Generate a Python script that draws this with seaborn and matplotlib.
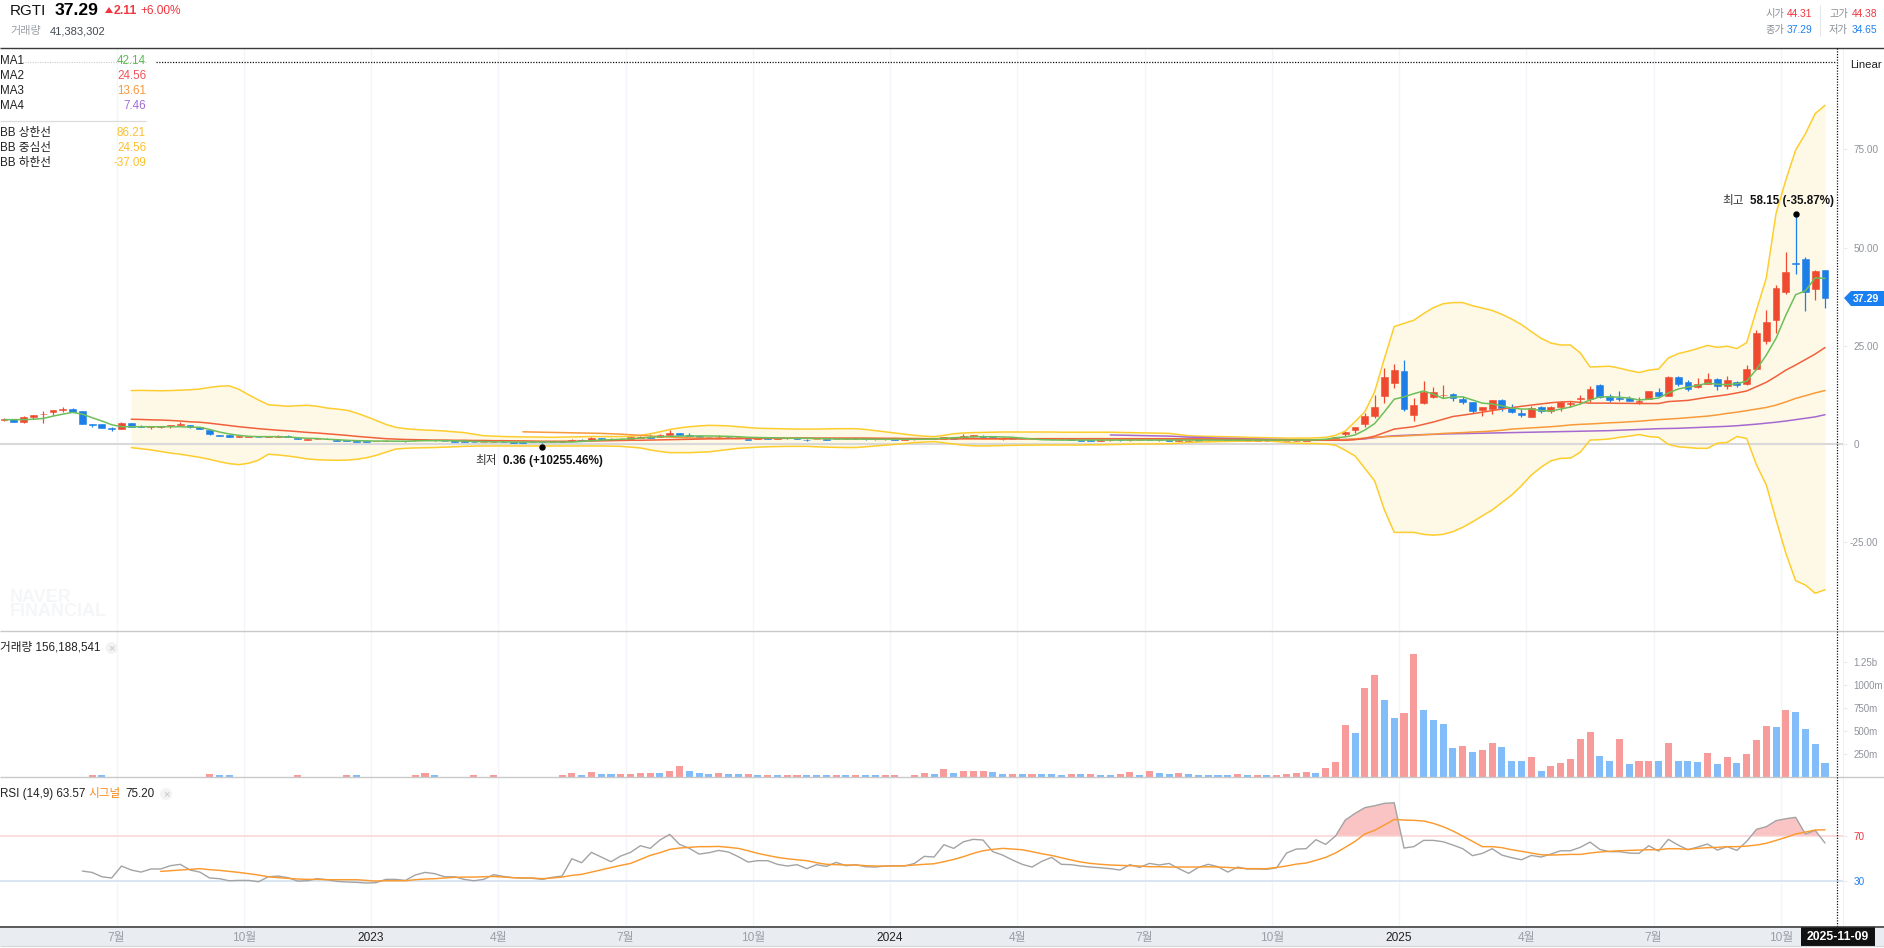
import matplotlib
matplotlib.use("Agg")
import matplotlib.dates as mdates
import matplotlib.pyplot as plt
import matplotlib.transforms as mtrans
from matplotlib.patches import Circle, Polygon, Rectangle
import numpy as np
import pandas as pd
import seaborn as sns

first_week = "2022-04-09"
n_weeks = 187

# candle that opens each labelled month
tick_weeks = [12, 25, 38, 51, 64, 77, 91, 104, 117, 130, 143, 156, 169, 182]
tick_labels = ["7월", "10월", "2023", "4월", "7월", "10월", "2024", "4월", "7월", "10월", "2025", "4월", "7월", "10월"]

opens = [6.1,6.27,5.6,6.8,7.55,8.05,8.65,8.9,8.4,5.0,
         5.0,4.2,3.9,5.35,4.6,4.3,4.45,4.6,4.9,4.75,
         4.25,3.55,2.3,2.3,1.85,1.9,1.9,1.85,1.9,2.0,
         1.6,1.1,1.2,1.35,1.1,1.05,0.76,0.76,0.7,0.8,
         0.85,0.7,0.9,1.0,1.0,0.78,0.76,0.76,0.6,0.42,
         0.55,0.6,0.5,0.48,0.5,0.45,0.45,0.55,0.7,1.1,
         1.0,1.5,1.2,1.0,1.35,1.5,1.85,1.87,2.4,2.7,
         2.4,2.05,1.8,1.7,1.8,1.7,1.3,1.4,1.45,1.4,
         1.5,1.45,1.05,1.2,1.2,1.3,1.25,1.3,1.2,1.15,
         1.2,1.15,1.1,1.15,1.2,1.3,1.3,1.6,1.7,2.0,
         2.1,2.0,1.2,1.5,1.35,1.25,1.3,1.25,1.15,1.2,
         1.1,0.95,0.85,0.9,0.95,0.9,0.95,1.0,0.95,0.9,
         0.85,0.6,0.9,0.8,0.85,1.0,0.8,0.75,0.8,0.7,
         0.8,0.75,0.8,0.85,1.0,1.05,1.45,2.54,3.65,5.17,
         7.1,12.3,15.6,18.6,7.4,10.4,12.0,12.5,12.7,11.45,
         10.7,8.7,8.9,11.2,9.1,7.9,6.9,9.4,8.4,9.4,
         10.3,11.45,11.45,15.0,12.1,11.7,11.7,10.7,11.4,13.2,
         12.2,17.05,15.8,14.5,15.4,16.5,14.75,15.8,15.3,19.1,
         26.2,31.55,38.7,46.0,47.1,39.45,44.31]
highs = [6.5,6.35,7.1,7.4,8.4,8.6,9.3,9.2,8.5,5.05,
         5.0,4.25,5.6,5.4,4.85,4.6,4.6,4.9,5.6,4.8,
         4.35,3.6,2.4,2.3,2.0,2.0,2.0,2.0,2.2,2.2,
         1.65,1.3,1.45,1.45,1.15,1.05,0.8,0.8,0.85,0.95,
         0.88,0.8,1.1,1.15,1.05,0.82,0.8,0.8,0.65,0.62,
         0.65,0.65,0.55,0.5,0.5,0.48,0.6,0.75,1.3,1.3,
         1.85,1.6,1.5,1.5,1.9,2.1,2.5,2.5,3.56,2.8,
         2.9,2.2,1.9,2.3,1.95,2.1,1.4,1.55,1.6,1.55,
         1.6,1.5,1.15,1.35,1.3,1.4,1.35,1.4,1.3,1.25,
         1.25,1.2,1.2,1.25,1.55,1.45,1.9,1.9,2.5,2.3,
         2.2,2.1,1.7,1.6,1.45,1.35,1.35,1.3,1.25,1.25,
         1.15,1.0,1.0,1.0,1.05,1.0,1.05,1.1,1.05,0.95,
         0.95,0.95,0.95,0.9,0.95,1.05,0.9,0.95,1.0,0.9,
         0.9,0.85,0.9,1.1,1.15,1.4,1.8,3.4,4.33,8.0,
         12.6,19.3,20.4,21.4,11.7,16.0,14.5,15.0,12.9,12.2,
         10.8,9.4,11.2,11.4,10.2,8.9,9.7,9.6,9.6,10.9,
         11.0,12.5,14.8,15.2,12.7,13.5,12.1,12.0,13.5,14.2,
         17.3,17.3,16.3,16.9,18.0,16.8,17.3,16.0,20.1,29.0,
         34.0,40.5,48.9,58.15,47.6,44.3,44.38]
lows = [5.9,5.65,5.4,6.3,5.4,7.4,8.05,8.1,5.17,4.4,
        4.15,3.4,3.8,4.4,4.3,3.8,4.2,4.1,4.8,4.1,
        3.7,2.4,2.0,1.8,1.8,1.85,1.7,1.8,1.85,1.75,
        1.2,1.05,1.15,1.15,0.85,0.8,0.5,0.5,0.65,0.75,
        0.68,0.6,0.85,0.95,0.85,0.65,0.6,0.58,0.42,0.4,
        0.5,0.5,0.38,0.38,0.4,0.36,0.42,0.5,0.65,0.7,
        0.95,1.1,1.1,0.95,1.3,1.45,1.5,1.8,2.3,2.2,
        2.05,1.75,1.6,1.65,1.6,1.6,0.95,1.3,1.3,1.35,
        1.4,1.2,0.85,1.15,0.95,1.2,1.15,1.2,1.1,1.1,
        1.1,1.05,1.05,1.1,1.15,1.2,1.25,1.2,1.6,1.9,
        1.7,1.75,1.1,1.3,1.2,1.15,1.2,1.1,1.1,1.05,
        0.8,0.75,0.8,0.85,0.85,0.85,0.9,0.9,0.85,0.8,
        0.8,0.55,0.75,0.75,0.8,0.75,0.75,0.7,0.75,0.65,
        0.7,0.7,0.75,0.8,0.9,1.0,1.3,2.0,2.8,4.33,
        6.6,10.5,14.3,8.5,5.8,10.3,11.7,11.6,11.0,10.2,
        7.8,7.2,7.6,8.5,7.9,6.8,6.9,7.9,7.9,8.5,
        9.3,10.2,10.7,11.8,10.6,10.9,10.9,10.2,11.4,12.0,
        12.2,14.8,13.5,14.2,15.2,13.7,14.0,14.5,15.0,18.8,
        25.4,28.2,38.2,43.3,33.9,36.6,34.65]
closes = [6.3,5.68,6.87,7.3,7.7,8.57,8.8,8.1,5.17,4.85,
          4.15,3.8,5.35,4.4,4.3,4.5,4.5,4.75,5.1,4.25,
          3.75,2.6,2.05,1.8,1.95,1.95,1.75,1.95,2.05,1.8,
          1.27,1.25,1.35,1.2,0.85,0.85,0.5,0.5,0.8,0.85,
          0.68,0.65,1.0,1.05,0.9,0.65,0.6,0.6,0.42,0.6,
          0.6,0.52,0.38,0.38,0.42,0.4,0.55,0.7,1.1,0.76,
          1.45,1.2,1.4,1.35,1.7,1.85,1.6,2.4,2.8,2.3,
          2.1,1.8,1.7,1.8,1.7,1.75,1.0,1.45,1.4,1.5,
          1.45,1.25,0.9,1.3,1.0,1.25,1.3,1.2,1.15,1.2,
          1.15,1.1,1.15,1.2,1.3,1.25,1.8,1.3,2.05,2.2,
          1.8,1.85,1.6,1.35,1.25,1.3,1.25,1.15,1.2,1.1,
          0.85,0.8,0.9,0.95,0.9,0.95,1.0,0.95,0.9,0.85,
          0.9,0.85,0.8,0.85,0.82,0.8,0.85,0.9,0.95,0.85,
          0.75,0.8,0.85,1.0,1.05,1.15,1.7,3.05,4.33,7.2,
          9.4,17.05,18.8,8.9,9.9,13.3,13.2,12.6,11.8,10.7,
          8.4,9.4,11.2,9.1,8.1,7.4,9.1,8.5,9.4,10.7,
          10.4,11.6,14.0,12.0,11.2,11.45,10.9,10.85,13.5,12.2,
          17.05,15.3,14.0,15.3,16.5,14.75,16.3,15.0,19.1,28.2,
          31.0,39.7,43.8,45.9,38.7,44.0,37.29]

ma1 = [6.2,6.2,6.2,6.3,6.5,7.1,7.6,8.05,7.6,6.7,
       5.85,4.9,4.4,4.4,4.4,4.4,4.4,4.4,4.4,4.3,
       4.25,3.7,3.05,2.55,2.2,1.95,1.87,1.87,1.87,1.8,
       1.6,1.45,1.4,1.2,1.1,0.95,0.85,0.8,0.75,0.75,
       0.72,0.7,0.78,0.85,0.85,0.85,0.8,0.75,0.65,0.6,
       0.55,0.55,0.5,0.5,0.5,0.5,0.5,0.5,0.5,0.65,
       0.85,1.0,1.1,1.2,1.35,1.5,1.7,1.85,1.95,2.0,
       2.05,2.05,2.05,2.0,1.95,1.85,1.7,1.65,1.6,1.55,
       1.5,1.45,1.45,1.4,1.35,1.3,1.25,1.25,1.25,1.2,
       1.2,1.2,1.2,1.2,1.2,1.3,1.45,1.6,1.7,1.8,
       1.85,1.85,1.8,1.7,1.5,1.3,1.1,1.05,1.0,1.0,
       1.0,1.0,1.0,1.0,1.0,1.0,1.0,1.0,1.0,1.0,
       1.0,1.0,1.0,1.0,1.0,1.0,1.0,1.0,1.0,1.0,
       1.0,1.0,1.0,1.0,1.05,1.2,1.6,1.8,2.3,3.55,
       5.2,8.2,11.4,12.0,12.8,13.5,12.7,11.6,12.0,12.0,
       11.2,10.4,10.2,9.7,9.15,8.9,8.9,8.5,8.4,8.9,
       9.4,10.2,11.2,12.0,12.0,11.9,11.7,11.2,11.4,11.7,
       13.0,14.0,14.5,14.9,15.5,15.2,15.1,15.35,16.0,19.0,
       22.6,26.9,32.8,38.0,39.0,42.3,42.14]

ma2_start = 13
ma2 = [6.3,6.25,6.15,6.1,6.0,5.85,5.65,
       5.55,5.3,5.0,4.7,4.4,4.15,3.9,3.7,3.5,3.35,
       3.15,2.95,2.8,2.6,2.4,2.2,1.95,1.75,1.55,1.35,
       1.25,1.15,1.1,1.05,1.0,1.0,0.95,0.95,0.9,0.9,
       0.85,0.85,0.8,0.8,0.75,0.7,0.7,0.7,0.7,0.75,
       0.75,0.8,0.85,0.9,0.95,0.95,1.0,1.05,1.1,1.15,
       1.2,1.25,1.3,1.3,1.35,1.35,1.4,1.4,1.45,1.45,
       1.45,1.5,1.5,1.5,1.5,1.5,1.5,1.5,1.5,1.45,
       1.45,1.45,1.4,1.4,1.35,1.35,1.35,1.35,1.35,1.35,
       1.35,1.35,1.35,1.35,1.35,1.35,1.35,1.35,1.35,1.35,
       1.35,1.35,1.35,1.35,1.35,1.35,1.35,1.35,1.35,1.35,
       1.3,1.3,1.3,1.25,1.25,1.2,1.2,1.15,1.15,1.1,
       1.05,1.0,1.0,0.95,0.95,0.95,0.95,0.95,1.1,1.45,
       2.0,2.9,3.8,4.1,4.4,5.0,5.6,6.3,7.0,7.35,
       7.7,8.1,8.5,8.9,9.25,9.6,9.9,10.2,10.5,10.7,
       10.8,10.6,10.4,10.4,10.4,10.35,10.35,10.3,10.3,10.3,
       10.8,10.95,11.1,11.5,11.9,12.2,12.55,13.0,13.5,14.6,
       15.7,17.2,18.8,20.1,21.5,22.9,24.56]

ma3_start = 53
ma3 = [3.1,3.05,3.0,2.95,2.9,2.85,2.8,
       2.75,2.7,2.6,2.5,2.35,2.2,2.05,1.9,1.75,1.65,
       1.55,1.5,1.5,1.45,1.45,1.45,1.45,1.45,1.45,1.45,
       1.45,1.45,1.45,1.4,1.4,1.4,1.4,1.4,1.4,1.4,
       1.35,1.35,1.35,1.35,1.35,1.35,1.35,1.35,1.35,1.35,
       1.3,1.3,1.3,1.3,1.3,1.3,1.3,1.3,1.3,1.3,
       1.25,1.25,1.25,1.25,1.25,1.25,1.25,1.25,1.25,1.25,
       1.25,1.25,1.2,1.2,1.15,1.15,1.1,1.1,1.05,1.05,
       1.0,1.0,0.95,0.95,0.95,1.0,1.05,1.1,1.3,1.5,
       1.7,1.85,1.95,2.05,2.2,2.35,2.5,2.7,2.8,2.9,
       3.05,3.15,3.3,3.5,3.8,3.95,4.1,4.25,4.4,4.6,
       4.85,5.0,5.1,5.25,5.4,5.5,5.65,5.8,6.0,6.2,
       6.35,6.5,6.7,6.9,7.1,7.4,7.8,8.1,8.5,8.9,
       9.3,9.9,10.7,11.6,12.3,13.0,13.61]

ma4_start = 113
ma4 = [2.3,2.25,2.2,2.15,2.1,2.05,2.0,
       1.9,1.75,1.7,1.6,1.5,1.45,1.4,1.3,1.25,1.2,
       1.15,1.1,1.05,1.0,1.0,1.05,1.1,1.15,1.2,1.3,
       1.6,1.9,2.1,2.2,2.3,2.4,2.45,2.55,2.6,2.65,
       2.7,2.75,2.8,2.85,2.9,2.95,3.0,3.05,3.1,3.15,
       3.2,3.25,3.3,3.35,3.4,3.5,3.6,3.7,3.8,3.9,
       3.95,4.0,4.1,4.2,4.3,4.4,4.5,4.65,4.85,5.05,
       5.3,5.55,5.85,6.2,6.55,6.9,7.46]

bb_start = 13
bb_upper = [13.6,13.65,13.6,13.55,13.6,13.7,13.8,
            14.0,14.4,14.7,14.8,13.9,12.5,11.2,10.0,9.8,9.6,
            9.75,9.85,9.6,9.15,8.9,8.6,7.9,7.0,6.0,5.0,
            4.25,3.9,3.7,3.55,3.45,3.3,3.1,2.9,2.5,2.1,
            2.0,1.9,1.85,1.8,1.8,1.75,1.7,1.75,1.8,1.85,
            1.9,1.9,1.9,1.9,1.95,2.2,2.6,3.1,3.7,4.1,
            4.4,4.6,4.75,4.7,4.6,4.4,4.2,4.0,3.95,3.9,
            3.85,3.8,3.8,3.8,3.85,3.9,3.9,3.9,3.7,3.4,
            3.1,2.8,2.5,2.2,2.0,1.87,2.2,2.6,2.8,2.9,
            2.95,3.0,3.05,3.05,3.05,3.05,3.05,3.05,3.0,3.0,
            3.0,3.0,3.0,3.0,2.95,2.9,2.85,2.8,2.75,2.7,
            2.4,2.1,2.0,1.95,1.9,1.85,1.8,1.7,1.65,1.6,
            1.55,1.5,1.5,1.5,1.55,1.7,2.2,3.3,5.7,8.2,
            13.3,21.8,29.9,30.7,31.5,33.2,34.7,35.7,36.0,36.0,
            35.2,34.6,34.0,33.0,31.8,30.4,28.6,26.9,25.7,25.2,
            25.2,23.2,19.6,19.7,19.8,19.3,18.7,18.2,18.8,19.1,
            21.9,23.0,23.6,24.3,25.1,24.6,24.9,24.3,25.8,34.1,
            42.2,58.7,67.2,74.8,79.0,84.1,86.21]
bb_lower = [-0.93,-1.2,-1.5,-1.9,-2.3,-2.6,-3.0,
            -3.4,-3.9,-4.5,-5.0,-5.25,-4.9,-4.1,-2.6,-2.8,-3.05,
            -3.4,-3.8,-4.0,-4.1,-4.15,-4.1,-3.9,-3.5,-2.9,-2.1,
            -1.3,-1.1,-1.0,-0.95,-0.9,-0.8,-0.7,-0.6,-0.55,-0.5,
            -0.5,-0.5,-0.5,-0.5,-0.5,-0.5,-0.5,-0.5,-0.5,-0.5,
            -0.5,-0.5,-0.55,-0.6,-0.8,-1.0,-1.5,-1.9,-2.2,-2.2,
            -2.2,-2.1,-2.0,-1.7,-1.4,-1.1,-0.95,-0.8,-0.7,-0.65,
            -0.6,-0.6,-0.6,-0.7,-0.8,-0.85,-0.9,-0.9,-0.7,-0.5,
            -0.3,-0.1,0.1,0.35,0.5,0.6,0.3,0.0,-0.3,-0.45,
            -0.5,-0.45,-0.4,-0.35,-0.3,-0.3,-0.25,-0.25,-0.25,-0.25,
            -0.25,-0.2,-0.2,-0.15,-0.1,-0.05,0.0,0.0,0.05,0.05,
            0.2,0.4,0.5,0.55,0.6,0.65,0.7,0.75,0.8,0.85,
            0.6,0.4,0.2,0.15,0.1,0.0,-0.3,-1.6,-3.05,-6.2,
            -9.4,-16.8,-22.5,-22.5,-22.5,-23.0,-23.2,-23.0,-22.3,-21.2,
            -19.8,-18.3,-16.8,-14.9,-13.0,-10.6,-7.9,-5.9,-4.3,-3.65,
            -3.6,-2.1,1.0,1.1,1.3,1.7,2.0,2.4,1.9,1.7,
            -0.1,-0.7,-0.9,-1.1,-1.1,0.2,0.4,1.9,1.4,-5.3,
            -10.4,-19.3,-27.8,-34.8,-35.9,-38.0,-37.09]

volume = [2,2,2,2,2,2,2,2,2,18,
          18,2,2,2,2,2,2,2,2,2,
          2,29,18,18,2,2,2,2,2,2,
          18,2,2,2,2,18,18,2,2,2,
          2,2,18,40,18,2,2,2,18,2,
          18,2,2,2,2,2,2,18,40,18,
          51,29,29,29,29,40,40,40,69,117,
          69,40,29,40,29,29,29,18,18,18,
          18,18,18,18,18,18,18,18,18,18,
          18,18,2,18,40,29,84,40,62,62,
          62,51,29,29,29,29,29,29,18,29,
          29,29,18,18,29,51,18,69,40,29,
          40,29,18,18,18,18,29,18,18,18,
          18,36,47,58,47,102,168,572,485,966,
          1108,845,649,703,1337,736,627,583,321,343,
          277,299,375,332,179,179,222,69,124,157,
          200,419,496,233,179,419,146,179,179,179,
          375,179,179,168,266,146,222,157,255,408,
          561,550,736,714,528,364,156.2]
volume_up = [1,1,1,1,1,1,1,1,1,1,
             0,1,1,1,1,1,1,1,1,1,
             1,1,0,0,1,1,1,1,1,1,
             1,1,1,1,1,1,0,1,1,1,
             1,1,1,1,0,1,1,1,1,1,
             1,1,1,1,1,1,1,1,1,0,
             1,0,0,1,1,1,1,0,1,1,
             0,0,0,1,0,0,1,0,1,0,
             1,1,0,0,0,1,0,1,0,0,
             1,1,1,1,1,0,1,0,1,1,
             1,0,0,1,0,1,0,0,0,1,
             0,1,0,0,1,1,0,1,0,0,
             1,0,0,0,0,0,1,0,1,0,
             1,1,1,1,0,1,1,1,0,1,
             1,0,0,1,1,0,0,0,0,1,
             0,1,1,0,0,0,1,0,1,1,
             1,1,1,0,0,1,0,1,1,0,
             1,0,0,0,1,0,1,0,1,1,
             1,0,1,0,0,0,0]

rsi_start = 8
rsi = [39.0,37.8,
       34.0,32.9,43.4,39.9,38.1,40.8,40.8,43.7,44.9,39.9,
       38.1,32.9,32.3,30.5,30.8,30.8,29.6,34.0,34.6,33.2,
       30.2,30.5,32.3,31.4,29.9,29.4,29.1,28.5,28.8,31.7,
       31.7,30.8,35.5,37.8,36.7,34.0,34.0,31.7,30.5,31.7,
       35.8,34.3,33.2,32.9,32.6,31.7,33.5,34.6,49.8,46.3,
       55.4,51.3,47.2,52.2,55.4,61.2,58.9,66.2,71.2,62.4,
       58.9,53.9,55.1,57.1,55.7,51.6,46.9,48.1,48.1,44.9,
       43.4,44.6,41.1,44.6,43.1,46.6,43.7,44.6,42.8,42.5,
       43.4,43.7,43.4,45.7,51.9,51.3,62.1,58.9,64.7,66.8,
       66.2,56.0,53.0,48.7,44.9,42.5,47.5,51.0,44.9,44.6,
       43.4,42.5,41.9,41.1,39.9,44.6,42.2,45.7,44.3,45.7,
       41.1,37.0,42.2,44.9,42.8,38.1,42.5,40.8,40.8,40.5,
       41.9,54.8,58.3,58.6,66.5,62.4,69.7,83.7,89.6,94.6,
       96.3,98.4,98.9,59.2,60.4,65.9,65.9,64.7,61.8,58.6,
       52.5,54.5,58.6,53.0,50.7,48.9,52.7,51.3,53.9,56.8,
       56.8,59.8,64.4,58.0,56.0,56.0,54.8,54.5,61.2,56.5,
       66.8,61.8,57.7,60.1,62.7,57.4,60.4,57.1,65.0,75.6,
       77.9,83.2,84.9,86.1,71.5,74.7,63.57]

signal_start = 16
signal = [38.7,39.3,39.9,40.5,
          41.1,40.2,39.6,38.7,37.8,36.7,35.5,34.0,33.2,32.6,
          32.0,31.7,31.7,31.4,31.4,31.4,31.4,30.8,30.2,30.5,
          30.5,30.5,31.4,32.0,32.3,32.9,33.5,33.7,33.7,34.0,
          34.3,33.7,33.2,32.9,32.9,32.3,32.9,33.7,35.2,36.1,
          38.1,40.2,42.2,44.0,45.7,49.2,52.7,55.1,58.0,59.2,
          59.8,60.4,60.4,60.6,59.8,58.9,56.8,54.5,52.7,51.0,
          49.8,48.9,48.1,46.3,44.9,44.6,44.3,44.3,43.7,43.4,
          43.4,43.4,43.7,44.3,44.9,45.4,47.2,49.2,51.6,54.5,
          56.8,58.0,58.9,58.3,57.7,56.0,54.2,52.7,50.7,48.7,
          46.9,45.7,44.9,44.3,44.0,43.7,43.4,42.8,42.8,42.5,
          42.5,42.5,42.5,42.8,42.5,42.2,41.6,41.1,41.1,41.1,
          42.2,43.4,45.1,46.0,48.4,51.0,54.8,59.8,65.0,71.5,
          74.7,79.4,84.3,83.7,83.5,82.9,80.8,77.9,74.1,69.7,
          65.0,60.4,60.4,59.5,57.7,56.3,54.8,53.3,53.0,53.3,
          53.6,53.6,54.8,55.7,56.3,56.8,57.1,57.4,57.7,57.7,
          58.6,58.6,58.0,58.9,59.5,59.8,60.4,60.4,60.9,61.8,
          63.3,65.9,68.5,71.5,73.2,75.0,75.2]

RED = "#ef4a30"
BLUE = "#1c7ee6"
GREEN = "#6cbf5a"
LINE_RED = "#f0603c"
ORANGE = "#f99a3a"
PURPLE = "#a569d0"
YELLOW = "#fdcd2e"
GRID = "#f2f5f9"
TICK_GREY = "#8f949c"
TEXT_RED = "#f0353f"
TEXT_BLUE = "#1e80f0"

W, H = 1884, 948
RIGHT = 1843

sns.set_theme(style="white")
plt.rcParams["font.family"] = ["Liberation Sans", "Noto Sans CJK KR"]
plt.rcParams["axes.unicode_minus"] = False

fig = plt.figure(figsize=(W / 100, H / 100), dpi=100, facecolor="white")


def panel(top, bottom):
    return fig.add_axes([0, 1 - bottom / H, RIGHT / W, (bottom - top) / H])


ax = panel(48, 631)
ax_vol = panel(631, 777)
ax_rsi = panel(777, 926)

x = mdates.date2num(pd.date_range(first_week, periods=n_weeks, freq="7D"))
# gridlines sit half a slot left of the candle
ticks = x[tick_weeks] - 3.5

# band behind everything
ax.fill_between(x[bb_start:], bb_lower, bb_upper, color="#fef9e6", lw=0, zorder=1)
ax.axhline(0, color="#d9d9d9", lw=1.5, zorder=1.2)

# candles
o, h, l, c = map(np.array, (opens, highs, lows, closes))
candle_colors = [RED if cc >= oo else BLUE for oo, cc in zip(o, c)]
ax.vlines(x, l, h, colors=candle_colors, lw=0.9, zorder=2)
ax.bar(x, np.abs(c - o), bottom=np.minimum(o, c), width=4.9, color=candle_colors,
       edgecolor=candle_colors, lw=0.4, zorder=2.1)

for vals, start, color in [(bb_upper, bb_start, YELLOW), (bb_lower, bb_start, YELLOW),
                           (ma4, ma4_start, PURPLE), (ma3, ma3_start, ORANGE),
                           (ma2, ma2_start, LINE_RED), (ma1, 0, GREEN)]:
    sns.lineplot(x=x[start:], y=vals, color=color, lw=1.1, estimator=None, zorder=3, ax=ax)

# high / low dots
up2 = mtrans.offset_copy(ax.transData, fig=fig, y=2, units="dots")
down4 = mtrans.offset_copy(ax.transData, fig=fig, y=-4, units="dots")
i_high = int(np.argmax(h))
i_low = int(np.argmin(l))
ax.plot(x[i_high], h[i_high], "o", color="black", ms=3.6, transform=up2, zorder=4)
ax.plot(x[i_low], l[i_low], "o", color="black", ms=3.6, transform=down4, zorder=4)

# volume
vol_df = pd.DataFrame({"x": x, "v": volume, "up": volume_up})
sns.barplot(data=vol_df, x="x", y="v", hue="up", palette={1: "#f79b9b", 0: "#82bdfa"}, native_scale=True,
            dodge=False, width=0.72, saturation=1, errorbar=None, legend=False, lw=0, zorder=2, ax=ax_vol)

# rsi
x_rsi = x[rsi_start:]
rsi_arr = np.array(rsi)
ax_rsi.axhline(70, color="#fbd7d7", lw=1.2, zorder=1)
ax_rsi.axhline(30, color="#d3e2f0", lw=1.2, zorder=1)
ax_rsi.fill_between(x_rsi, 70, rsi_arr, where=rsi_arr > 70, interpolate=True, color="#fac4c5", lw=0, zorder=1.5)
sns.lineplot(x=x_rsi, y=rsi, color="#a3a3a3", lw=1.0, estimator=None, zorder=3, ax=ax_rsi)
sns.lineplot(x=x[signal_start:], y=signal, color="#fb9a2f", lw=1.05, estimator=None, zorder=3.1, ax=ax_rsi)

for a in (ax, ax_vol, ax_rsi):
    a.set_xlim(x[0] - 2.86, x[-1] + 12.87)
    a.set_xlabel("")
    a.set_ylabel("")
    a.set_xticks(ticks)
    a.set_xticklabels([])
    a.grid(axis="x", color=GRID, lw=1)
    a.grid(axis="y", visible=False)
    a.set_axisbelow(True)
    a.yaxis.tick_right()
    a.tick_params(axis="x", length=0)
    a.tick_params(axis="y", right=True, length=3, width=0.8, color="#e6ebf1", labelcolor=TICK_GREY,
                  labelsize=7.2, pad=4.4)
    for side in ("top", "left", "bottom"):
        a.spines[side].set_visible(False)
    a.spines["right"].set_color("#f0f1f3")
    a.spines["right"].set_linewidth(0.8)

ax.set_ylim(-47.6, 100.8)
ax.set_yticks([75, 50, 25, 0, -25])
ax.set_yticklabels(["75.00", "50.00", "25.00", "0", "-25.00"])
ax.yaxis.get_major_ticks()[4].set_pad(1.8)

ax_vol.set_ylim(0, 1593)
ax_vol.set_yticks([250, 500, 750, 1000, 1250])
ax_vol.set_yticklabels(["250m", "500m", "750m", "1000m", "1.25b"])
ax_vol.tick_params(axis="y", labelsize=7)

ax_rsi.set_ylim(-9.2, 121.5)
ax_rsi.set_yticks([70, 30])
ax_rsi.set_yticklabels(["70", "30"])
ax_rsi.get_yticklabels()[0].set_color(TEXT_RED)
ax_rsi.get_yticklabels()[1].set_color(TEXT_BLUE)

ax_rsi.set_xticklabels(tick_labels, fontsize=8.6)
ax_rsi.tick_params(axis="x", pad=4)
for lab, txt in zip(ax_rsi.get_xticklabels(), tick_labels):
    lab.set_color("#222222" if txt.startswith("20") else "#9aa0a8")

# bottom strip sits under the axes
fig.add_artist(Rectangle((0, 1 - 946 / H), 1, 20 / H, transform=fig.transFigure, color="#e9ecf1", lw=0, zorder=-1))

# everything else is page furniture, drawn in pixel coordinates
ov = fig.add_axes([0, 0, 1, 1], zorder=10)
ov.set_xlim(0, W)
ov.set_ylim(H, 0)
ov.axis("off")


def t(px, py, s, color="#222222", size=8.4, ha="left", weight="normal", **kw):
    ov.text(px, py, s, color=color, fontsize=size, ha=ha, va="center", fontweight=weight, **kw)


ov.hlines(47.5, 0, W, color="#3a3a3a", lw=1)
ov.hlines([631, 777], 0, W, color="#c9c9c9", lw=1)
ov.hlines(926.5, 0, W, color="#333333", lw=1.1)
ov.hlines(946, 0, W, color="#d4d6da", lw=0.8)
ov.hlines(62, 156, 1836, color="#111111", lw=0.9, linestyles=(0, (1, 1.2)))
ov.hlines(62, 20, 146, color="#cccccc", lw=0.8, linestyles=(0, (1, 1.2)))
ov.vlines(1836.7, 48, 926, color="#111111", lw=0.9, linestyles=(0, (1, 1.2)))

# header
t(10, 10.5, "RGTI", color="#111111", size=11)
t(55, 10.5, "37.29", color="#000000", size=12.6, weight="bold")
ov.add_patch(Polygon([[105, 13], [113, 13], [109, 7]], closed=True, color=TEXT_RED, lw=0))
t(114, 10.5, "2.11", color=TEXT_RED, size=8.8, weight="bold")
t(140, 10.5, "+6.00%", color=TEXT_RED, size=8.6)
t(10, 31, "거래량", color="#9a9fa6", size=8)
t(50, 31, "41,383,302", color="#444a52", size=8)

t(1765, 14, "시가", color="#8a8f96", size=7.4)
t(1812, 14, "44.31", color=TEXT_RED, size=7.4, ha="right")
t(1765, 30, "종가", color="#8a8f96", size=7.4)
t(1812, 30, "37.29", color=TEXT_BLUE, size=7.4, ha="right")
t(1829, 14, "고가", color="#8a8f96", size=7.4)
t(1877, 14, "44.38", color=TEXT_RED, size=7.4, ha="right")
t(1829, 30, "저가", color="#8a8f96", size=7.4)
t(1877, 30, "34.65", color=TEXT_BLUE, size=7.4, ha="right")
ov.vlines(1820, 5, 36, color="#e4e6ea", lw=0.8)

# legend block
for py, name, val, col in [(61, "MA1", "42.14", "#5cba55"), (75.5, "MA2", "24.56", "#f0555a"),
                           (90.5, "MA3", "13.61", "#f7983c"), (105.5, "MA4", "7.46", "#a56cd8"),
                           (133, "BB 상한선", "86.21", "#fdc02f"), (148, "BB 중심선", "24.56", "#fdc02f"),
                           (163, "BB 하한선", "-37.09", "#fdc02f")]:
    t(0, py, name)
    t(146, py, val, color=col, ha="right")
ov.hlines(120.5, 0, 146, color="#dcdcdc", lw=0.9)

t(1850, 65, "Linear", color="#222222", size=8.2)

# watermark
t(10, 597, "NAVER", color="#f5f6f8", size=13, weight="bold")
t(10, 611, "FINANCIAL", color="#f5f6f8", size=13, weight="bold")

# high / low captions
t(1722.5, 200.5, "최고", color="#333333", size=8.4)
t(1750.5, 200.5, "58.15 (-35.87%)", color="#111111", size=8.4, weight="bold")
t(475, 460.5, "최저", color="#333333", size=8.4)
t(503, 460.5, "0.36 (+10255.46%)", color="#111111", size=8.4, weight="bold")

# price tag
ov.add_patch(Polygon([[1844, 298], [1851, 291], [1884, 291], [1884, 306], [1851, 306]], closed=True,
                     color="#1a7ff0", lw=0))
t(1866, 298.5, "37.29", color="white", size=7.6, ha="center", weight="bold")

# panel captions
t(0, 648, "거래량 156,188,541")
ov.add_patch(Circle((111.6, 648), 6, color="#f3f3f3", lw=0))
t(111.6, 648, "×", color="#c4c4c4", size=8, ha="center")
t(0, 794, "RSI (14,9) 63.57")
t(88, 794, "시그널", color="#fb8c1e")
t(125, 794, "75.20")
ov.add_patch(Circle((166, 794), 6, color="#f3f3f3", lw=0))
t(166, 794, "×", color="#c4c4c4", size=8, ha="center")

# crosshair date
ov.add_patch(Rectangle((1801, 927), 74, 19, color="#111111", lw=0))
t(1838, 936.5, "2025-11-09", color="white", size=8.8, ha="center", weight="bold")

fig.savefig("out.png", dpi=100)
